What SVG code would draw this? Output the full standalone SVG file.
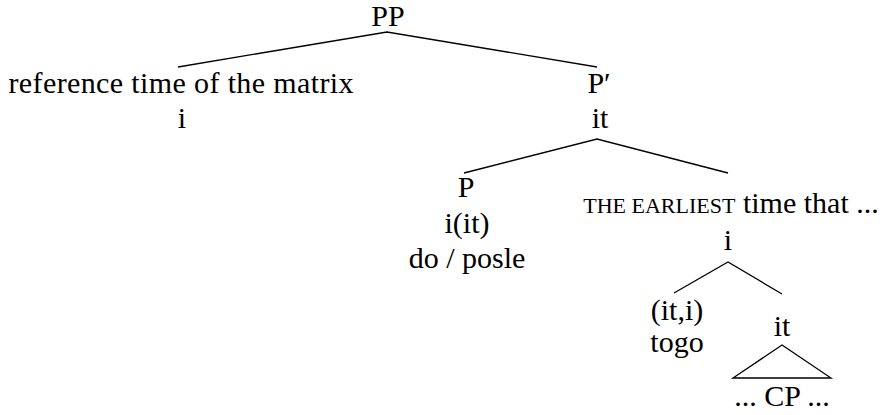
<svg xmlns="http://www.w3.org/2000/svg" width="892" height="415" viewBox="0 0 892 415">
<style>
text{font-family:'Liberation Serif','DejaVu Serif',serif;font-size:30px;fill:#000;text-anchor:middle}
.sc{font-size:22px}
.edge{stroke:#000;stroke-width:1.3;fill:none}
</style>
<rect width="892" height="415" fill="#fff"/>
<g id="connectors">
<polyline class="edge" points="178,67 387,32 597,67"/>
<polyline class="edge" points="464,173 597,139 728,173"/>
<polyline class="edge" points="674,293 728,262 782,294"/>
<polygon class="edge" points="782,345 733,378 831,378"/>
</g>
<g id="n-pp"><text x="388" y="26">PP</text></g>
<g id="n-ref"><text x="181" y="93" textLength="345" lengthAdjust="spacing">reference time of the matrix</text><text x="182" y="128">i</text></g>
<g id="n-pbar"><text x="599" y="93">P′</text><text x="600" y="128">it</text></g>
<g id="n-p"><text x="466" y="197">P</text><text x="467" y="233">i(it)</text><text x="467" y="268">do / posle</text></g>
<g id="n-earliest"><text x="731" y="213"><tspan class="sc">THE EARLIEST</tspan> time that ...</text><text x="728" y="250">i</text></g>
<g id="n-togo"><text x="677" y="320">(it,i)</text><text x="677" y="352">togo</text></g>
<g id="n-it"><text x="782" y="336">it</text></g>
<g id="n-cp"><text x="782" y="406">... CP ...</text></g>
</svg>
